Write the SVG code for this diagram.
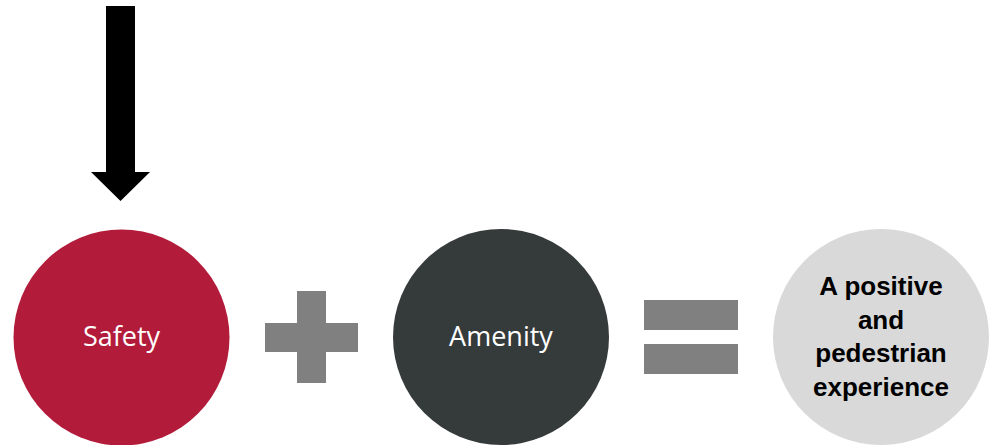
<svg xmlns="http://www.w3.org/2000/svg" width="994" height="445" viewBox="0 0 994 445">
<style>
.lbl{font-family:"Open Sans","Liberation Sans",sans-serif;font-size:27px;fill:#ffffff;text-anchor:middle}
.blbl{font-family:"Liberation Sans",Arial,sans-serif;font-weight:bold;font-size:26px;fill:#000000;text-anchor:middle}
.op{fill:#808080}
</style>
<rect width="994" height="445" fill="#ffffff"/>
<g id="connectors">
<polygon points="106,6 135,6 135,172 150,172 120.5,201 91,172 106,172" fill="#000000"/>
</g>
<g id="safety">
<circle cx="121.5" cy="337.5" r="108" fill="#B31B3B"/>
<text class="lbl" x="121.5" y="346">Safety</text>
</g>
<g id="plus">
<rect class="op" x="297" y="291" width="29" height="92"/>
<rect class="op" x="265" y="323" width="93" height="29"/>
</g>
<g id="amenity">
<circle cx="501" cy="337" r="108" fill="#353A3B"/>
<text class="lbl" x="501" y="346">Amenity</text>
</g>
<g id="equals">
<rect class="op" x="644" y="300" width="94" height="30"/>
<rect class="op" x="644" y="344" width="94" height="30"/>
</g>
<g id="result">
<circle cx="881" cy="337" r="108" fill="#D9D9D9"/>
<text class="blbl" x="881" y="295">A positive</text>
<text class="blbl" x="881" y="328.5">and</text>
<text class="blbl" x="881" y="362">pedestrian</text>
<text class="blbl" x="881" y="395.5">experience</text>
</g>
</svg>
